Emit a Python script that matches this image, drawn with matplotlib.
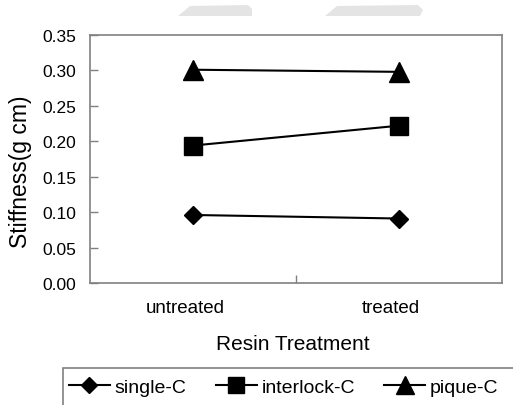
import matplotlib
matplotlib.use("Agg")
import matplotlib.pyplot as plt
from matplotlib.patches import Polygon, Rectangle

plt.rcParams['font.family'] = ['Liberation Sans', 'DejaVu Sans']

categories = ["untreated", "treated"]
single_c = [0.096, 0.091]
interlock_c = [0.194, 0.222]
pique_c = [0.301, 0.298]
yticks = [0.00, 0.05, 0.10, 0.15, 0.20, 0.25, 0.30, 0.35]

W, H = 513, 406
fig = plt.figure(figsize=(W / 100, H / 100), dpi=100)
ax = fig.add_axes([90 / W, 1 - 284 / H, (502 - 90) / W, (284 - 36) / H])

x = list(range(len(categories)))
ax.plot(x, single_c, color='black', lw=1.5, marker='D', ms=9.5, label='single-C')
ax.plot(x, interlock_c, color='black', lw=1.5, marker='s', ms=13, label='interlock-C')
ax.plot(x, pique_c, color='black', lw=1.5, marker='^', ms=15, label='pique-C')

ax.set_xlim(-0.5, 1.5)
ax.set_ylim(0, 0.35)
ax.set_yticks(yticks)
ax.set_yticklabels([f"{v:.2f}" for v in yticks], fontsize=12.5)
ax.set_xticks([0.5])
ax.set_xticklabels([""])
for i, c in enumerate(categories):
    ax.text(i - 0.04, -0.035, c, ha='center', va='center', fontsize=13.5,
            transform=ax.transData)
ax.tick_params(axis='both', direction='in', length=6, color='#808080', width=1)
ax.tick_params(axis='y', pad=10)
for s in ax.spines.values():
    s.set_color('#808080')
    s.set_linewidth(1.2)

ax.set_ylabel("Stiffness(g cm)", fontsize=16.5)
ax.yaxis.set_label_coords(-0.141, 0.452)
fig.text(293 / W, 1 - 345 / H, "Resin Treatment", ha='center', va='center', fontsize=15)

# legend frame (extends beyond figure)
fig.patches.append(Rectangle((63 / W, -0.05), 0.95, (1 - 369 / H) + 0.05,
                             transform=fig.transFigure, fill=False,
                             edgecolor='#808080', lw=1.2))
leg = fig.legend(loc='center left', bbox_to_anchor=(69 / W, 1 - 388 / H), ncol=3,
                 frameon=False, fontsize=14, handlelength=2.1, handletextpad=0.25,
                 columnspacing=1.5, borderpad=0, borderaxespad=0, markerscale=0.85)

# faint watermark shapes at top
for pts in ([(178, 17), (190, 7), (248, 6), (252, 10), (252, 17)],
            [(325, 17), (337, 7), (418, 6), (423, 11), (420, 17)]):
    fig.patches.append(Polygon([(px / W, 1 - py / H) for px, py in pts], closed=True,
                               transform=fig.transFigure, facecolor='#e4e4e4',
                               edgecolor='none'))

fig.savefig("out.png", dpi=100)
